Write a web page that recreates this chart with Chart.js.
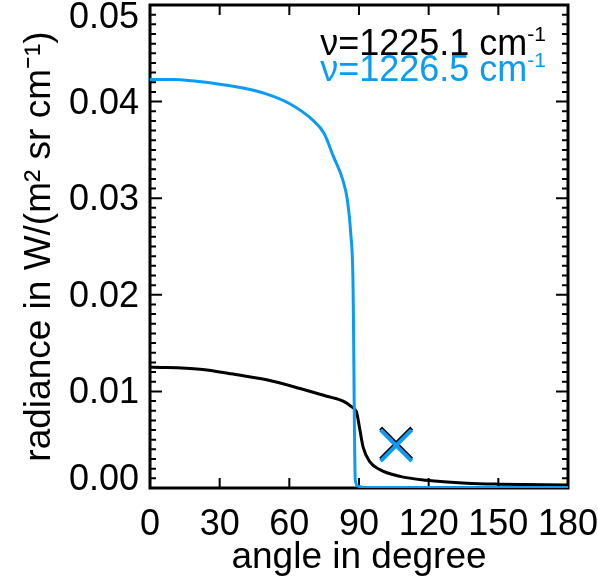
<!DOCTYPE html>
<html>
<head>
<meta charset="utf-8">
<script src="https://cdn.jsdelivr.net/npm/chart.js@4"></script>
<style>
html, body { margin: 0; padding: 0; background: #fff; }
</style>
</head>
<body>
<canvas id="radianceChart" width="598" height="586"></canvas>
<script>
// values
const blackAngle = [0, 21.5, 35.8, 50.2, 64.6, 76.1, 83.2, 86.9, 88.3, 89, 90.4, 91.8, 94.7, 99, 107.7, 119, 136.5, 150.7, 180];
const blackRadiance = [0.01253, 0.0123, 0.0118, 0.0112, 0.0103, 0.0095, 0.0090, 0.0084, 0.0081, 0.0078, 0.0060, 0.0042, 0.0027, 0.0019, 0.0012, 0.0008, 0.0005, 0.0004, 0.0003];

const blueAngle = [0, 10, 20, 30, 40, 50, 60, 70, 75, 79, 83, 85, 86.5, 87.4, 88.4, 89.5, 92, 120, 150, 180];
const blueRadiance = [0.0423, 0.0423, 0.0421, 0.0418, 0.0414, 0.0408, 0.0398, 0.0381, 0.0367, 0.0343, 0.0319, 0.0298, 0.0262, 0.0215, 0.0008, 0.0002, 0.00005, 0.00005, 0.00005, 0.00005];

const markerAngle = [106, 106];
const markerRadiance = [0.0046, 0.0044]; // black, blue

const xTicks = [0, 30, 60, 90, 120, 150, 180];
const legendLines = ['\u03bd=1225.1 cm', '\u03bd=1226.5 cm'];

const BLUE = 'rgb(10,155,245)';
const FONT = 'Liberation Sans, Arial, sans-serif';

function toPoints(xs, ys) {
    return xs.map(function (v, i) { return {x: v, y: ys[i]}; });
}

// box with inward ticks on all four sides
const frameTicks = {
    id: 'frameTicks',
    beforeDatasetsDraw(chart) {
        const {ctx, chartArea: a, scales: {x, y}} = chart;
        ctx.save();
        ctx.strokeStyle = '#000';
        ctx.lineWidth = 2;
        ctx.beginPath();
        for (const v of xTicks) {
            const px = x.getPixelForValue(v);
            ctx.moveTo(px, a.bottom); ctx.lineTo(px, a.bottom - 10);
            ctx.moveTo(px, a.top); ctx.lineTo(px, a.top + 10);
        }
        for (let i = 0; i <= 50; i++) {
            const py = y.getPixelForValue(i / 1000);
            const len = i % 10 === 0 ? 12 : 6;
            ctx.moveTo(a.left, py); ctx.lineTo(a.left + len, py);
            ctx.moveTo(a.right, py); ctx.lineTo(a.right - len, py);
        }
        ctx.stroke();
        ctx.lineWidth = 3;
        ctx.strokeRect(a.left, a.top, a.right - a.left, a.bottom - a.top);

        // y tick labels, end ones nudged inside like the original
        ctx.fillStyle = '#000';
        ctx.font = '36px ' + FONT;
        ctx.textAlign = 'right';
        ctx.textBaseline = 'middle';
        y.ticks.forEach(function (t, i) {
            let py = y.getPixelForValue(t.value);
            if (i === 0) py -= 10;
            if (i === y.ticks.length - 1) py += 11;
            ctx.fillText(t.value.toFixed(2), a.left - 11, py + 2);
        });
        ctx.restore();
    }
};

// the two wavenumber labels, with a small raised "-1"
const waveLabels = {
    id: 'waveLabels',
    afterDraw(chart) {
        const ctx = chart.ctx;
        const right = 546;
        const colors = ['#000', BLUE];
        ctx.save();
        ctx.textBaseline = 'alphabetic';
        legendLines.forEach(function (txt, i) {
            const base = 55 + i * 26;
            ctx.font = '21px ' + FONT;
            const supW = ctx.measureText('-1').width;
            ctx.fillStyle = colors[i];
            ctx.textAlign = 'left';
            ctx.fillText('-1', right - supW, base - 14);
            ctx.font = '36px ' + FONT;
            ctx.textAlign = 'right';
            ctx.fillText(txt, right - supW, base);
        });
        ctx.restore();
    }
};

const ctx = document.getElementById('radianceChart').getContext('2d');
const radianceChart = new Chart(ctx, {
    type: 'line',
    data: {
        datasets: [
            {
                type: 'scatter',
                data: [{x: markerAngle[1], y: markerRadiance[1]}],
                pointStyle: 'crossRot',
                pointRadius: 22,
                pointBorderWidth: 4,
                borderColor: BLUE,
                backgroundColor: BLUE
            },
            {
                type: 'scatter',
                data: [{x: markerAngle[0], y: markerRadiance[0]}],
                pointStyle: 'crossRot',
                pointRadius: 22,
                pointBorderWidth: 4,
                borderColor: '#000',
                backgroundColor: '#000'
            },
            {
                data: toPoints(blueAngle, blueRadiance),
                borderColor: BLUE,
                borderWidth: 3,
                pointRadius: 0,
                cubicInterpolationMode: 'monotone',
                fill: false
            },
            {
                data: toPoints(blackAngle, blackRadiance),
                borderColor: '#000',
                borderWidth: 3,
                pointRadius: 0,
                cubicInterpolationMode: 'monotone',
                fill: false
            }
        ]
    },
    options: {
        responsive: false,
        animation: false,
        layout: {autoPadding: false, padding: {top: 5, right: 30, bottom: 0, left: 0}},
        plugins: {legend: {display: false}, tooltip: {enabled: false}},
        scales: {
            x: {
                type: 'linear',
                min: 0,
                max: 180,
                grid: {display: false},
                border: {display: false},
                ticks: {
                    stepSize: 30,
                    padding: 7,
                    color: '#000',
                    maxRotation: 0,
                    autoSkip: false,
                    font: {family: FONT, size: 36}
                },
                title: {
                    display: true,
                    text: 'angle in degree',
                    color: '#000',
                    font: {family: FONT, size: 37},
                    padding: {top: 0, bottom: 6}
                },
                afterFit: function (s) {
                    s.height = 98;
                    s.paddingLeft = 0;
                    s.paddingRight = 0;
                }
            },
            y: {
                min: 0,
                max: 0.05,
                grid: {display: false},
                border: {display: false},
                ticks: {
                    display: false,
                    stepSize: 0.01,
                    autoSkip: false
                },
                title: {
                    display: true,
                    text: 'radiance in W/(m\u00b2 sr cm\u207b\u00b9)',
                    color: '#000',
                    font: {family: FONT, size: 37},
                    padding: {top: 18, bottom: 0}
                },
                afterFit: function (s) {
                    s.width = 150;
                    s.paddingTop = 0;
                    s.paddingBottom = 0;
                }
            }
        }
    },
    plugins: [frameTicks, waveLabels]
});
</script>
</body>
</html>
